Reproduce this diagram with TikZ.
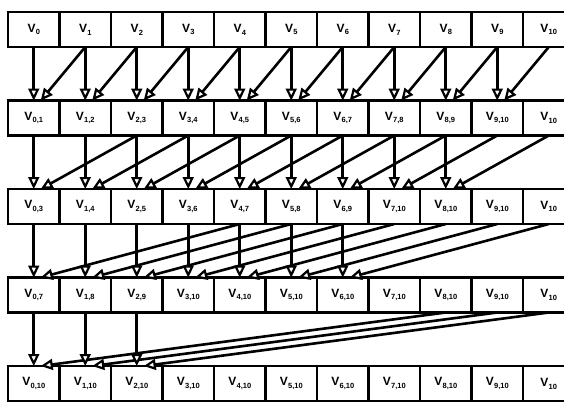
\documentclass[tikz,border=0pt]{standalone}
\usepackage{fontspec}
\setmainfont{Liberation Sans}
\usetikzlibrary{arrows.meta}
\newcommand{\vlab}[1]{\textbf{V}\kern0.3pt\raisebox{-2.8pt}{\fontsize{7.5}{7.5}\selectfont\bfseries #1}}
\begin{document}
\begin{tikzpicture}[x=1pt,y=-1pt,
  cell/.style={draw, line width=2.8pt, minimum width=51.5pt, minimum height=35pt, inner sep=0pt, outer sep=0pt, font=\fontsize{12}{12}\selectfont},
  arr/.style={line width=2.6pt, -{Triangle[length=12pt, width=11pt, fill=white, line width=2.2pt]}}]
\useasboundingbox (0,0) rectangle (564,402);
\foreach \r in {0,...,4} {
  \pgfmathtruncatemacro{\s}{2^\r-1}
  \pgfmathsetmacro{\yc}{29.5+88.5*\r}
  \foreach \i in {0,...,10} {
    \pgfmathtruncatemacro{\j}{min(\i+\s,10)}
    \ifnum\j=\i \def\lab{\vlab{\i}}\else\def\lab{\vlab{\i,\j}}\fi
    \node[cell] (r\r-\i) at ({33.75+51.5*\i}, \yc) {\lab};
  }
}
\foreach \r in {0,...,3} {
  \pgfmathtruncatemacro{\d}{2^\r}
  \pgfmathtruncatemacro{\n}{\r+1}
  \pgfmathtruncatemacro{\m}{10-\d}
  \foreach \i in {0,...,\m} {
    \pgfmathtruncatemacro{\k}{\i+\d}
    \draw[arr] (r\r-\i.south) -- (r\n-\i.north);
    \draw[arr] (r\r-\k.south) -- ([xshift=7pt]r\n-\i.north);
  }
}
\end{tikzpicture}
\end{document}
